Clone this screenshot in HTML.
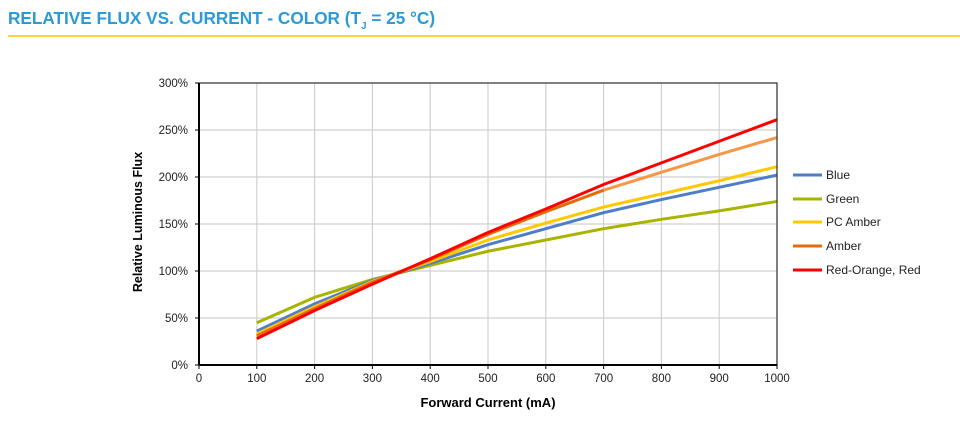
<!DOCTYPE html>
<html><head><meta charset="utf-8"><style>
body{margin:0;background:#fff;width:960px;height:441px;overflow:hidden;font-family:"Liberation Sans",Arial,sans-serif}
</style></head><body>
<svg id="s" width="960" height="441" xmlns="http://www.w3.org/2000/svg" font-family="Liberation Sans, Arial, sans-serif">
<text x="8" y="24" font-size="17.2" font-weight="bold" fill="#2A9BD8">RELATIVE FLUX VS. CURRENT - COLOR (T<tspan font-size="10" dy="5">J</tspan><tspan dy="-5"> = 25 °C)</tspan></text>
<line x1="8" y1="36" x2="960" y2="36" stroke="#F9C400" stroke-width="1.5"/>
<g id="grid"></g>
<g id="series"></g>
<rect x="199" y="83" width="578" height="282" fill="none" stroke="#333" stroke-width="1.2"/>
<line x1="199" y1="83" x2="199" y2="365" stroke="#000" stroke-width="2"/>
<line x1="199" y1="365" x2="777" y2="365" stroke="#000" stroke-width="2"/>
<text transform="translate(142,222) rotate(-90)" text-anchor="middle" font-size="12.5" font-weight="bold">Relative Luminous Flux</text>
<text x="488" y="407" text-anchor="middle" font-size="13" font-weight="bold">Forward Current (mA)</text>
<g font-size="12" fill="#222">
<line x1="793" y1="175" x2="822" y2="175" stroke="#4F7EC8" stroke-width="3"/><text x="826" y="179">Blue</text>
<line x1="793" y1="199" x2="822" y2="199" stroke="#A8B400" stroke-width="3"/><text x="826" y="203">Green</text>
<line x1="793" y1="222" x2="822" y2="222" stroke="#FFC800" stroke-width="3"/><text x="826" y="226">PC Amber</text>
<line x1="793" y1="246" x2="822" y2="246" stroke="#E36C09" stroke-width="3"/><text x="826" y="250">Amber</text>
<line x1="793" y1="270" x2="822" y2="270" stroke="#FF0000" stroke-width="3"/><text x="826" y="274">Red-Orange, Red</text>
</g>
</svg>
<script>
var NS="http://www.w3.org/2000/svg",s=document.getElementById('s'),g=document.getElementById('grid'),se=document.getElementById('series');
function X(v){return 199+v*0.578}function Y(v){return 365-v*0.94}
function el(p,t,a,txt){var e=document.createElementNS(NS,t);for(var k in a)e.setAttribute(k,a[k]);if(txt!=null)e.textContent=txt;p.appendChild(e);return e}
for(var i=1;i<=10;i++){el(g,'line',{x1:X(i*100),x2:X(i*100),y1:83,y2:365,stroke:'#d0d0d0','stroke-width':1.2});}
for(var j=1;j<=6;j++){el(g,'line',{x1:199,x2:777,y1:Y(j*50),y2:Y(j*50),stroke:'#d0d0d0','stroke-width':1.2});}
for(var i=0;i<=10;i++){el(g,'text',{x:X(i*100),y:382,'text-anchor':'middle','font-size':11.5,fill:'#222'},String(i*100));el(g,'line',{x1:X(i*100),x2:X(i*100),y1:365,y2:369,stroke:'#000'});}
for(var j=0;j<=6;j++){el(g,'text',{x:188,y:Y(j*50)+4,'text-anchor':'end','font-size':11.5,fill:'#222'},(j*50)+'%');el(g,'line',{x1:195,x2:199,y1:Y(j*50),y2:Y(j*50),stroke:'#000'});}
var xs=[100,200,300,400,500,600,700,800,900,1000];
var D=[
['#A8B400',[45,72,91,106,121,133,145,155,164,174]],
['#4F7EC8',[36,65,90,108,128,145,162,176,189,202]],
['#FFC800',[33,62,89,110,133,151,168,182,196,211]],
['#E36C09',[31,60,88,112,139,163,186]],
['#FFFFFF',[]],
['#FF0000',[28,58,86,113,141,166,192,215,238,261]]];
function pl(c,v,off){var p=v.map(function(y,k){return X(xs[k+off])+','+Y(y)}).join(' ');el(se,'polyline',{points:p,fill:'none',stroke:c,'stroke-width':3,'stroke-linejoin':'round'});}
pl(D[0][0],D[0][1],0);pl(D[1][0],D[1][1],0);pl(D[2][0],D[2][1],0);
pl('#F79646',[186,205,224,242],6);pl('#E36C09',D[3][1],0);
pl(D[5][0],D[5][1],0);
</script>
</body></html>
